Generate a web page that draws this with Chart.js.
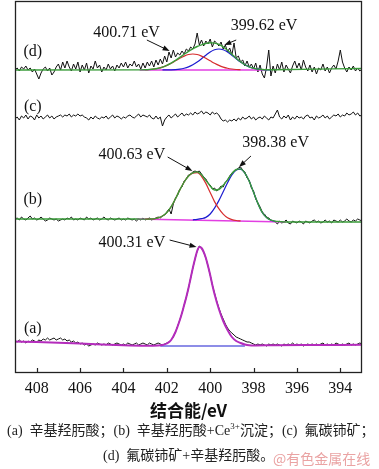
<!DOCTYPE html>
<html><head><meta charset="utf-8">
<script src="https://cdn.jsdelivr.net/npm/chart.js@4"></script>
<style>
html,body{margin:0;padding:0;background:#fff;}
#wrap{position:relative;width:379px;height:469px;overflow:hidden;}
canvas{position:absolute;left:0;top:0;}
.cap{position:absolute;font-family:"Liberation Serif","Noto Sans CJK SC",serif;font-size:14px;color:#222;white-space:nowrap;line-height:18px;}
.cap sup{font-size:9px;vertical-align:6px;line-height:0;}
.wm{position:absolute;font-family:"Noto Sans CJK SC",sans-serif;font-size:14px;color:#eaa3a3;white-space:nowrap;line-height:18px;}
</style></head><body>
<div id="wrap">
<canvas id="c" width="379" height="469"></canvas>
<div class="cap" style="left:7px;top:422px;">(a)&nbsp; 辛基羟肟酸；(b)&nbsp; 辛基羟肟酸+Ce<sup>3+</sup>沉淀；(c)&nbsp; 氟碳铈矿；</div>
<div class="cap" style="left:103px;top:447px;">(d)&nbsp; 氟碳铈矿+辛基羟肟酸。</div>
<div class="wm" style="left:273px;top:449px;">@有色金属在线</div>
</div>
<script>
// ---- energy grid of raw spectra (eV), 409 -> 393, 0.1 eV step ----
const E_START = 409, E_STEP = 0.1;
const tickValues = [408, 406, 404, 402, 400, 398, 396, 394];

// raw spectra (relative intensity, a.u.)
const rawA = [5,4,6,4,5,3,5,4,6,5, 4,6,5,7,6,8,6,7,8,6, 7,8,6,7,5,6,4,5,3,4, 2,3,1,2,0,1,2,1,3,2,
  1,2,1,3,2,1,2,3,2,1, 2,1,3,2,1,2,3,1,2,3, 2,1,3,2,1,2,3,2,1,2, 3,4,6,9,14,20,26,33,41,49,
  58,68,78,87,95,100,98,94,88,80, 71,61,53,45,38,32,27,22,18,15, 13,11,9,8,7,6,5,4,4,3, 2,1,2,1,2,1,0,2,1,2,
  1,2,1,0,2,1,2,1,3,1, 2,1,2,0,1,2,1,2,1,2, 1,2,3,1,2,1,2,1,3,2, 1,2,1,2,3,1,2,1,2,3,2];
const rawB = [3,4,2,5,3,2,4,6,3,4, 2,3,5,3,1,2,4,3,2,3, 1,2,3,2,4,3,5,2,3,2, 4,3,2,5,3,4,2,3,4,2,
  3,5,3,2,4,3,2,3,4,2, 3,2,4,3,2,3,1,3,2,4, 2,3,4,2,3,4,5,4,6,7, 10,13,8,18,24,27,33,35,41,43,
  47,48,50,51,50,51,48,45,43,39, 37,33,34,31,33,36,35,40,42,46, 49,51,52,54,55,52,50,44,42,34, 31,23,19,15,10,8,5,4,2,1,
  0,-2,1,-1,0,2,-1,-2,1,0, -1,1,0,-2,1,0,-1,1,2,0, 1,-1,0,2,0,1,-1,2,1,0, 2,0,1,3,1,0,2,1,3,2,1];
const rawC = [-1,1,-2,2,0,3,-1,2,1,-2, 3,0,2,-1,1,3,0,2,-1,1, 2,3,1,3,2,4,1,3,2,4, 2,3,1,0,-2,1,-1,2,0,-1,
  1,0,2,-1,1,3,0,2,1,-1, 1,0,2,3,1,0,2,4,1,3, 2,1,3,0,-1,2,-1,1,-8,-2, 1,3,0,2,4,1,3,5,2,4,
  3,5,3,6,4,5,7,4,6,5, 3,6,4,5,3,-1,-3,-2,-4,-2, -3,-1,-3,0,-2,1,-1,0,2,-1, 1,-2,0,1,-1,2,0,-2,1,0,
  4,8,1,-1,2,0,3,-2,1,-1, 2,0,1,-1,2,3,0,1,-2,2, 0,1,3,0,2,-1,1,3,2,4, 1,3,2,5,3,4,6,3,5,2,3];
const rawD = [0,2,-1,3,1,4,0,2,-2,1, -4,-9,-3,1,3,-1,2,-5,-2,3, 6,0,8,2,9,3,-1,6,1,8, -2,5,0,7,-3,4,1,9,2,5,
  -2,3,0,6,1,4,-1,5,2,7, 3,8,2,6,4,9,3,6,1,7, 2,8,4,9,3,10,5,11,6,14, 8,18,12,20,13,17,15,19,16,21,
  19,23,21,26,37,25,30,24,29,26, 31,23,29,27,24,28,21,25,18,22, 15,27,12,14,8,10,4,9,3,6, 1,7,-2,5,-4,-8,3,20,-6,4,
  -3,6,0,8,-2,5,1,-3,4,9, 2,7,0,10,3,-1,5,-2,3,-4, 2,0,6,-1,3,-3,2,5,1,9, 20,8,2,-2,3,0,4,-1,2,-1,1];

// fitted curves (energy, value)
const aFitE = [409,408,407,406,405,404,403,402.4,402.2,402.0,401.8,401.6,401.4,401.3,401.2,401.1,401.0,400.9,400.8,400.7,400.6,400.5,400.4,400.3,400.2,400.1,400.0,399.9,399.8,399.6,399.4,399.2,399.0,398.8,398.6,398.4,398.2,398.0,397,395,393];
const aFitY = [4.5,4,3.3,2.5,1.5,0.7,0.3,0.5,1,2.5,6,14,26,33,41,49,58,68,78,87,95,99,98,94,88,80,71,61,52,37,25,16,9,5,3,1.5,0.7,0.5,0.8,1,1.2];
const aBaseE = [402.3, 398.4];
const aBaseY = [0, 0];

const bBaseE = [403.4, 396.5];
const bBaseY = [3, 0];
const bRedE = [403.0,402.8,402.6,402.4,402.2,402.0,401.8,401.6,401.4,401.2,401.0,400.8,400.6,400.4,400.2,400.0,399.8,399.6,399.4,399.2,399.0,398.8,398.6];
const bRedY = [2.83,2.95,3.15,4.1,6.0,9.4,15.3,23.2,32.1,40.0,46.0,48.9,49.3,45.7,38.6,29.5,20.4,13.3,7.8,4.2,2.4,1.5,1.1];
const bBlueE = [400.8,400.6,400.4,400.2,400.0,399.8,399.6,399.4,399.2,399.0,398.8,398.6,398.4,398.2,398.0,397.8,397.6,397.4,397.2,397.0];
const bBlueY = [2.2,2.6,3.3,4.6,8.0,13.9,21.4,30.3,39.2,47.1,52.0,52.9,48.8,40.7,29.7,18.6,9.5,4.4,1.8,0.7];
const bSumE = [409,403.4,403.0,402.8,402.6,402.4,402.2,402.0,401.8,401.6,401.4,401.2,401.0,400.8,400.6,400.4,400.2,400.0,399.8,399.6,399.4,399.2,399.0,398.8,398.6,398.4,398.2,398.0,397.8,397.6,397.4,397.2,397.0,396.8,396.5,393];
const bSumY = [3,3,2.83,2.95,3.15,4.1,6.0,9.4,15.3,23.2,32.1,40.0,46.1,49.2,50.1,47.3,41.6,36.0,32.0,32.5,36.8,42.2,48.4,52.5,53.1,48.9,40.7,29.7,18.6,9.5,4.4,1.8,0.7,0.4,0,0];

const dBaseE = [403.25, 397.4];
const dBaseY = [0, 0];
const dRedE = [403.0,402.8,402.6,402.4,402.2,402.0,401.8,401.6,401.4,401.2,401.0,400.8,400.6,400.4,400.2,400.0,399.8,399.6,399.4,399.2,399.0,398.8,398.6];
const dRedY = [0.24,0.5,0.97,1.74,2.93,4.6,6.7,9.2,11.7,13.9,15.5,16,15.5,13.9,11.7,9.2,6.7,4.6,2.93,1.74,0.97,0.5,0.24];
const dBlueE = [402.2,402.0,401.8,401.6,401.4,401.2,401.0,400.8,400.6,400.4,400.2,400.0,399.8,399.6,399.4,399.2,399.0,398.8,398.6,398.4,398.2,398.0,397.8,397.6,397.4,397.2];
const dBlueY = [0.03,0.08,0.2,0.44,0.92,1.78,3.17,5.24,8.0,11.3,14.8,18.0,20.2,21,20.2,18.0,14.8,11.3,8.0,5.24,3.17,1.78,0.92,0.44,0.2,0.08];
const dSumE = [409,403.2,403.0,402.8,402.6,402.4,402.2,402.0,401.8,401.6,401.4,401.2,401.0,400.8,400.6,400.4,400.2,400.0,399.8,399.6,399.4,399.2,399.0,398.8,398.6,398.4,398.2,398.0,397.8,397.6,397.4,397.0,393];
const dSumY = [0,0.1,0.24,0.5,0.97,1.74,2.96,4.7,6.9,9.6,12.6,15.7,18.7,21.2,23.5,25.2,26.5,27.2,26.9,25.6,23.1,19.7,15.8,11.8,8.2,5.24,3.17,1.78,0.92,0.44,0.2,0.3,1.5];

// vertical stacking offsets of the four spectra
const offsets = {a: 27, b: 151, c: 255, d: 303};

// ---- build ----
const energy = rawA.map((_, i) => +(E_START - i * E_STEP).toFixed(1));
const pts = (E, Y, off) => E.map((e, i) => ({x: e, y: Y[i] + off}));
const rawPts = (Y, off) => Y.map((v, i) => ({x: energy[i], y: v + off}));

const C = {black:'#111111', green:'#3a9c3a', red:'#d62c2c', blue:'#1c1cd0', pink:'#e23fe2', purple:'#b42cbc'};
const fit = (data, color, w, order) => ({data, borderColor: color, borderWidth: w, pointRadius: 0, fill: false,
  cubicInterpolationMode: 'monotone', order});
const raw = (data, order) => ({data, borderColor: C.black, borderWidth: 1, pointRadius: 0, fill: false, tension: 0, order});

const datasets = [
  raw(rawPts(rawA, offsets.a), 10),
  fit(pts(aBaseE, aBaseY, offsets.a), C.blue, 1.2, 3),
  fit(pts(aFitE, aFitY, offsets.a), C.purple, 2, 2),
  raw(rawPts(rawB, offsets.b), 10),
  fit(pts(bBaseE, bBaseY, offsets.b), C.pink, 1.3, 5),
  fit(pts(bRedE, bRedY, offsets.b), C.red, 1.2, 4),
  fit(pts(bBlueE, bBlueY, offsets.b), C.blue, 1.2, 4),
  fit(pts(bSumE, bSumY, offsets.b), C.green, 1.4, 3),
  raw(rawPts(rawC, offsets.c), 10),
  raw(rawPts(rawD, offsets.d), 10),
  fit(pts(dBaseE, dBaseY, offsets.d), C.pink, 1.3, 5),
  fit(pts(dRedE, dRedY, offsets.d), C.red, 1.2, 4),
  fit(pts(dBlueE, dBlueY, offsets.d), C.blue, 1.2, 4),
  fit(pts(dSumE, dSumY, offsets.d), C.green, 1.4, 3),
];

// annotations: text at (eV, y), arrows from tail to head (eV, y)
const annotations = [
  {text:'400.71 eV', at:[403.86, 340], tail:[402.92, 333], head:[401.87, 322]},
  {text:'399.62 eV', at:[397.52, 347], tail:[398.8, 333], head:[399.35, 328]},
  {text:'400.63 eV', at:[403.61, 218], tail:[401.96, 216], head:[400.82, 202]},
  {text:'398.38 eV', at:[396.98, 230], tail:[398.12, 217], head:[398.67, 206]},
  {text:'400.31 eV', at:[403.61, 130], tail:[401.87, 133], head:[400.63, 126]},
  {text:'(d)', at:[408.18, 321]},
  {text:'(c)', at:[408.18, 266]},
  {text:'(b)', at:[408.18, 173]},
  {text:'(a)', at:[408.18, 44]},
];

const decor = {
  id: 'decor',
  afterDraw(chart) {
    const {ctx, chartArea: a, scales: {x, y}} = chart;
    ctx.save();
    ctx.strokeStyle = '#222'; ctx.lineWidth = 1.3;
    ctx.strokeRect(a.left + 0.5, a.top + 0.5, a.right - a.left - 1, a.bottom - a.top - 1);
    ctx.lineWidth = 1.2;
    tickValues.forEach(v => {
      const px = Math.round(x.getPixelForValue(v)) + 0.5;
      ctx.beginPath(); ctx.moveTo(px, a.bottom); ctx.lineTo(px, a.bottom - 5); ctx.stroke();
    });
    ctx.font = '16px "Liberation Serif"'; ctx.fillStyle = '#111';
    ctx.textAlign = 'center'; ctx.textBaseline = 'middle';
    annotations.forEach(an => {
      ctx.fillText(an.text, x.getPixelForValue(an.at[0]), y.getPixelForValue(an.at[1]));
      if (an.tail) {
        const x1 = x.getPixelForValue(an.tail[0]), y1 = y.getPixelForValue(an.tail[1]);
        const x2 = x.getPixelForValue(an.head[0]), y2 = y.getPixelForValue(an.head[1]);
        const ang = Math.atan2(y2 - y1, x2 - x1), L = 7, W = 2.6;
        ctx.strokeStyle = '#111'; ctx.lineWidth = 1;
        ctx.beginPath(); ctx.moveTo(x1, y1);
        ctx.lineTo(x2 - L * 0.8 * Math.cos(ang), y2 - L * 0.8 * Math.sin(ang)); ctx.stroke();
        ctx.beginPath();
        ctx.moveTo(x2, y2);
        ctx.lineTo(x2 - L * Math.cos(ang) + W * Math.sin(ang), y2 - L * Math.sin(ang) - W * Math.cos(ang));
        ctx.lineTo(x2 - L * Math.cos(ang) - W * Math.sin(ang), y2 - L * Math.sin(ang) + W * Math.cos(ang));
        ctx.closePath(); ctx.fill();
      }
    });
    ctx.restore();
  }
};

new Chart(document.getElementById('c'), {
  type: 'line',
  data: {datasets},
  options: {
    responsive: false, animation: false, events: [],
    layout: {padding: {left: 15, right: 17, top: 1, bottom: 48}},
    plugins: {legend: {display: false}, tooltip: {enabled: false}},
    scales: {
      x: {
        type: 'linear', reverse: true, min: 393, max: 409,
        afterBuildTicks(s) { s.ticks = tickValues.map(v => ({value: v})); },
        afterFit(s) { s.height = 48; },
        grid: {display: false, drawTicks: false}, border: {display: false},
        ticks: {font: {family: '"Liberation Serif"', size: 16}, color: '#111', padding: 6, maxRotation: 0, autoSkip: false},
        title: {display: true, text: '结合能/eV', color: '#111',
          font: {family: '"Noto Sans CJK SC"', size: 17, weight: 'bold'}, padding: {top: 0, bottom: 0}}
      },
      y: {display: false, min: 0, max: 372}
    }
  },
  plugins: [decor]
});
</script>
</body></html>
